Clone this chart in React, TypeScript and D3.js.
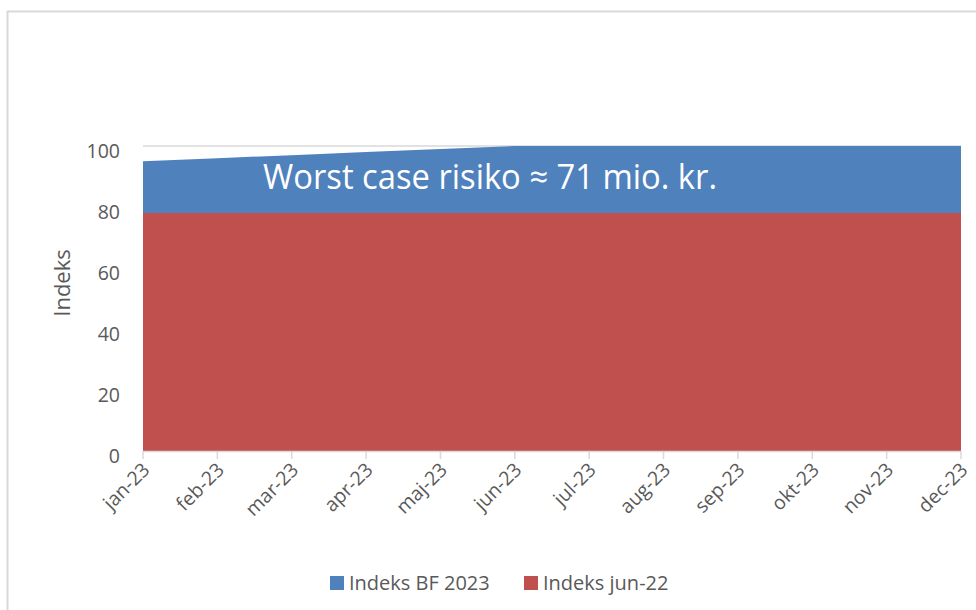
import React from "react";
import * as d3 from "d3";

const months = ["jan-23","feb-23","mar-23","apr-23","maj-23","jun-23","jul-23","aug-23","sep-23","okt-23","nov-23","dec-23"];
const indeksBF2023 = [95, 96, 97, 98, 99, 100, 100, 100, 100, 100, 100, 100];
const indeksJun22 = [78, 78, 78, 78, 78, 78, 78, 78, 78, 78, 78, 78];
const yTicks = [0, 20, 40, 60, 80, 100];
const seriesNames = ["Indeks BF 2023", "Indeks jun-22"];
const annotation = "Worst case risiko \u2248 71 mio. kr.";

const W = 976, H = 610;
const BLUE = "#4f81bd", RED = "#c0504d";
const FONT = "'Open Sans', sans-serif";
const TXT = "#595959";

export default function App() {
  const x = d3.scalePoint<string>().domain(months).range([143, 961]);
  const y = d3.scaleLinear().domain([0, 100]).range([451, 146]);
  const blueArea = d3.area<number>()
    .x((_, i) => x(months[i])!)
    .y0((_, i) => y(indeksJun22[i]))
    .y1((d) => y(d));
  const redArea = d3.area<number>()
    .x((_, i) => x(months[i])!)
    .y0(y(0))
    .y1((d) => y(d));
  return (
    <svg width={W} height={H} style={{ position: "absolute", left: 0, top: 0, background: "#fff" }}>
      <rect x={7.5} y={11.5} width={W + 10} height={H + 10} fill="#fff" stroke="#d9d9d9" strokeWidth={2} />
      {yTicks.map((t) => (
        <line key={t} x1={143} x2={961} y1={y(t)} y2={y(t)} stroke="#d9d9d9" strokeWidth={1.5} />
      ))}
      <path d={blueArea(indeksBF2023)!} fill={BLUE} />
      <path d={redArea(indeksJun22)!} fill={RED} />
      <line x1={143} x2={961} y1={451.5} y2={451.5} stroke="#d9d9d9" strokeWidth={1.5} />
      {months.map((m) => (
        <g key={m}>
          <line x1={x(m)!} x2={x(m)!} y1={451} y2={459} stroke="#d9d9d9" strokeWidth={1.5} />
          <text
            transform={`translate(${x(m)! + 8},${471}) rotate(-45)`}
            textAnchor="end"
            fontFamily={FONT}
            fontSize={19.5}
            fill={TXT}
          >{m}</text>
        </g>
      ))}
      {yTicks.map((t) => (
        <text key={t} x={120} y={y(t) + 12} textAnchor="end" fontFamily={FONT} fontSize={19.5} fill={TXT}>{t}</text>
      ))}
      <text transform="translate(70,283) rotate(-90)" textAnchor="middle" fontFamily={FONT} fontSize={22} fill={TXT}>Indeks</text>
      <text x={263} y={189} fontFamily={FONT} fontSize={34} fill="#fff" textLength={454} lengthAdjust="spacingAndGlyphs">{annotation}</text>
      {seriesNames.map((s, i) => {
        const lx = i === 0 ? 330 : 524;
        return (
          <g key={s}>
            <rect x={lx} y={576} width={14} height={14} fill={i === 0 ? BLUE : RED} />
            <text x={lx + 19} y={590} fontFamily={FONT} fontSize={20} fill={TXT}>{s}</text>
          </g>
        );
      })}
    </svg>
  );
}
